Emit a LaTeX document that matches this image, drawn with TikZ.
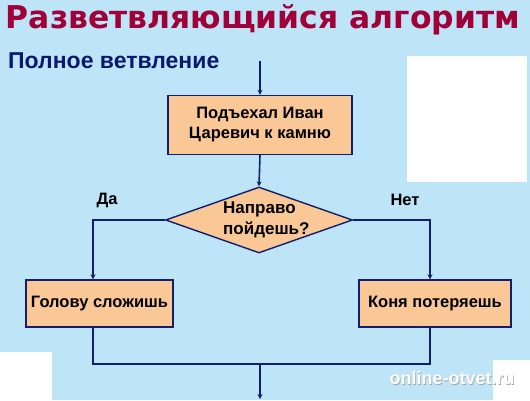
\documentclass[tikz,border=0pt]{standalone}
\usepackage{fontspec}
\setmainfont{Liberation Sans}
\newfontfamily\titlefont{DejaVu Sans}
\usetikzlibrary{shapes.geometric,arrows.meta}
\definecolor{bgblue}{RGB}{190,228,248}
\definecolor{peach}{RGB}{250,200,150}
\definecolor{navy}{RGB}{20,30,110}
\definecolor{titlered}{RGB}{160,0,55}
\definecolor{subnavy}{RGB}{10,25,110}
\tikzset{
  flow/.style={draw=navy, line width=1.6pt},
  arr/.style={flow, -{Stealth[length=5pt,width=5pt]}},
  procbox/.style={draw=navy, line width=1.4pt, fill=peach, font=\fontsize{16.5}{20}\selectfont\bfseries, align=center, inner sep=0pt},
  decbox/.style={diamond, draw=navy, line width=1.4pt, fill=peach, font=\fontsize{17}{21}\selectfont\bfseries, align=left, inner sep=0pt, minimum width=187pt, minimum height=66pt},
  lbl/.style={font=\fontsize{16.5}{18}\selectfont\bfseries, inner sep=0pt}
}
\begin{document}
\begin{tikzpicture}[x=1pt,y=-1pt]
\useasboundingbox (0,0) rectangle (530,400);
\fill[bgblue] (0,0) rectangle (530,400);
% white patches
\fill[white] (407,56) rectangle (527,182);
\fill[white] (0,352) rectangle (52,400);
\fill[white] (493,360) rectangle (530,400);
% titles
\node[text=titlered, font=\titlefont\bfseries, anchor=center, inner sep=0pt] (title) at (263,20) {\resizebox{514pt}{!}{Разветвляющийся алгоритм}};
\node[text=subnavy, font=\fontsize{23}{25}\selectfont\bfseries, anchor=west, inner sep=0pt] (sub) at (8,61) {Полное ветвление};
% nodes
\coordinate (start) at (260,61);
\node[procbox, minimum width=184pt, minimum height=59pt] (b1) at (260,125) {Подъехал Иван\\Царевич к камню};
\node[decbox] (d) at (259,220) {};
\node[font=\fontsize{17}{21}\selectfont\bfseries, align=left, inner sep=0pt, anchor=north west] (dt) at (223,202) {Направо\\пойдешь?};
\node[procbox, minimum width=147pt, minimum height=47pt] (yes) at (99.5,303.5) {Голову сложишь};
\node[procbox, minimum width=152pt, minimum height=47pt] (no) at (435,303.5) {Коня потеряешь};
\coordinate (yl) at (93,220);
\coordinate (nr) at (430,220);
\coordinate (jl) at (93,364);
\coordinate (jr) at (430,364);
\coordinate (jm) at (260,364);
\coordinate (end) at (260,399);
% connectors
\draw[arr] (start) -- (b1.north);
\draw[arr] (b1.south) -- (d.north);
\draw[arr] (d.west) -- (yl) -- (yl |- yes.north);
\draw[arr] (d.east) -- (nr) -- (nr |- no.north);
\draw[flow] (jl |- yes.south) -- (jl) -- (jr) -- (jr |- no.south);
\draw[arr] (jm) -- (end);
% labels
\node[lbl] (da) at (107,200) {Да};
\node[lbl] (net) at (405,200) {Нет};
% watermark
\node[text=gray!70, font=\fontsize{18}{20}\selectfont\bfseries, inner sep=0pt] (wm2) at (452.8,378.8) {online-otvet.ru};
\node[text=white, font=\fontsize{18}{20}\selectfont\bfseries, inner sep=0pt] (wm) at (452,378) {online-otvet.ru};
\end{tikzpicture}
\end{document}
